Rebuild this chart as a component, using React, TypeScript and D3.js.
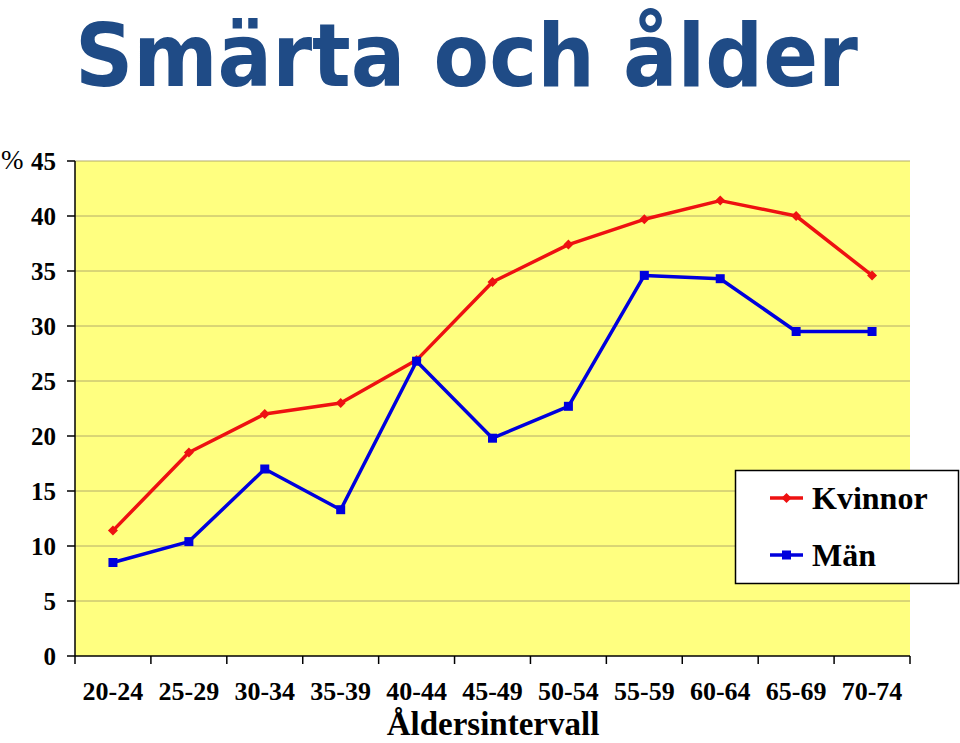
import React from "react";
import * as d3 from "d3";

const categories = ["20-24","25-29","30-34","35-39","40-44","45-49","50-54","55-59","60-64","65-69","70-74"];
const kvinnor = [11.4, 18.5, 22.0, 23.0, 26.9, 34.0, 37.4, 39.7, 41.4, 40.0, 34.6];
const man = [8.5, 10.4, 17.0, 13.3, 26.8, 19.8, 22.7, 34.6, 34.3, 29.5, 29.5];
const yTicks = [0, 5, 10, 15, 20, 25, 30, 35, 40, 45];

const W = 960, H = 743;
const L = 75, R = 910, T = 161, B = 656;

export default function App() {
  const x = d3.scaleBand<string>().domain(categories).range([L, R]);
  const y = d3.scaleLinear().domain([0, 45]).range([B, T]);
  const cx = (c: string) => (x(c) as number) + x.bandwidth() / 2;
  const line = d3.line<number>().x((_, i) => cx(categories[i])).y((d) => y(d));
  const serif = "'Liberation Serif', 'Times New Roman', serif";
  const red = "#ee1111";
  const blue = "#0000dd";
  const diamond = (px: number, py: number, s: number) =>
    `M${px},${py - s}L${px + s},${py}L${px},${py + s}L${px - s},${py}Z`;
  return (
    <svg width={W} height={H} style={{ position: "absolute", left: 0, top: 0, background: "#fff" }}>
      <text x={75} y={86} fontFamily="'Comic Sans MS', 'DejaVu Sans', sans-serif" fontWeight="bold"
        fontSize={88} fill="#1f4b86" textLength={783} lengthAdjust="spacingAndGlyphs">Smärta och ålder</text>
      <rect x={L} y={T} width={R - L} height={B - T} fill="#ffff80" />
      {yTicks.filter((t) => t > 0).map((t) => (
        <line key={t} x1={L} x2={R} y1={y(t)} y2={y(t)} stroke="#b4ac6a" strokeWidth={1} />
      ))}
      <line x1={L} x2={L} y1={T} y2={B} stroke="#000" strokeWidth={1.5} />
      <line x1={L} x2={R} y1={B} y2={B} stroke="#000" strokeWidth={1.5} />
      {yTicks.map((t) => (
        <g key={t}>
          <line x1={L - 8} x2={L} y1={y(t)} y2={y(t)} stroke="#000" strokeWidth={1.5} />
          <text x={56} y={y(t)} dy="0.35em" textAnchor="end" fontFamily={serif} fontWeight="bold" fontSize={25}>{t}</text>
        </g>
      ))}
      {[...categories.map((c) => x(c) as number), R].map((px, i) => (
        <line key={i} x1={px} x2={px} y1={B} y2={B + 8} stroke="#000" strokeWidth={1.5} />
      ))}
      {categories.map((c) => (
        <text key={c} x={cx(c)} y={700} textAnchor="middle" fontFamily={serif} fontWeight="bold" fontSize={26}>{c}</text>
      ))}
      <text x={493} y={735} textAnchor="middle" fontFamily={serif} fontWeight="bold" fontSize={33}>Åldersintervall</text>
      <text x={1} y={169} fontFamily={serif} fontSize={27}>%</text>
      <path d={line(kvinnor) || ""} fill="none" stroke={red} strokeWidth={3.5} strokeLinejoin="round" />
      {kvinnor.map((v, i) => (
        <path key={i} d={diamond(cx(categories[i]), y(v), 5)} fill={red} />
      ))}
      <path d={line(man) || ""} fill="none" stroke={blue} strokeWidth={3.5} strokeLinejoin="round" />
      {man.map((v, i) => (
        <rect key={i} x={cx(categories[i]) - 4.5} y={y(v) - 4.5} width={9} height={9} fill={blue} />
      ))}
      <rect x={735.5} y={470.5} width={223} height={113} fill="#fff" stroke="#000" strokeWidth={1.5} />
      <line x1={770} x2={803} y1={498} y2={498} stroke={red} strokeWidth={3.5} />
      <path d={diamond(786.5, 498, 5)} fill={red} />
      <text x={812} y={509} fontFamily={serif} fontWeight="bold" fontSize={32}>Kvinnor</text>
      <line x1={770} x2={803} y1={555} y2={555} stroke={blue} strokeWidth={3.5} />
      <rect x={782} y={550.5} width={9} height={9} fill={blue} />
      <text x={812} y={566} fontFamily={serif} fontWeight="bold" fontSize={32}>Män</text>
    </svg>
  );
}
